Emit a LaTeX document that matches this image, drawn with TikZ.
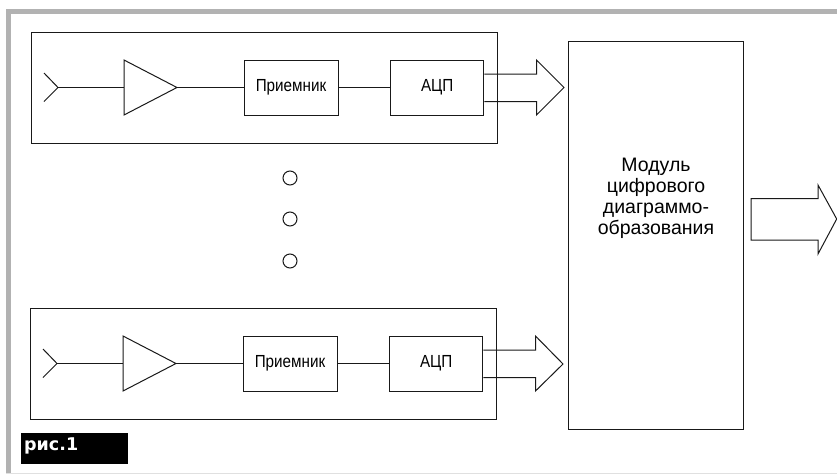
\documentclass[tikz,border=0pt]{standalone}
\usepackage{fontspec}
\setmainfont{Liberation Sans}
\newfontfamily\capfont{DejaVu Sans}
\newfontfamily\narrowfont[FakeStretch=0.87]{Liberation Sans}
\tikzset{
  px/.style={x=1pt,y=-1pt},
  ln/.style={draw=black!90,line width=1pt,line join=miter},
  group/.style={ln,minimum width=466pt,minimum height=111pt,inner sep=0pt},
  block/.style={ln,minimum height=55pt,inner sep=0pt,font=\narrowfont\fontsize{17.5}{19}\selectfont},
  rx/.style={block,minimum width=94pt},
  adc/.style={block,minimum width=93.5pt},
  dotc/.style={ln,circle,minimum size=14pt,inner sep=0pt},
  main/.style={ln,minimum width=175pt,minimum height=388pt,inner sep=0pt},
}
\begin{document}
\begin{tikzpicture}[px]
\useasboundingbox (0,0) rectangle (837,474);
% frame
\fill[white] (0,0) rectangle (837,474);
\fill[black!30] (6,9) rectangle (837,14);
\fill[black!30] (6,9) rectangle (11,473);
\fill[black!12] (6,473) rectangle (837,474);
% top channel
\node[group] (g1) at (264,87.5) {};
\node[rx] (r1) at (291,87.5) {\raisebox{-1.5pt}{Приемник}};
\node[adc] (a1) at (437.2,87.5) {\raisebox{-1.5pt}{АЦП}};
\coordinate (f1) at (58,87.5);
\coordinate (at1) at (124,60);
\coordinate (ab1) at (124,115);
\coordinate (ai1) at (124,87.5);
\coordinate (ao1) at (177,87.5);
\draw[ln] (44,73) -- (f1) -- (44,101.5);
\draw[ln] (f1) -- (ai1);
\draw[ln] (at1) -- (ao1) -- (ab1) -- cycle;
\draw[ln] (ao1) -- (r1);
\draw[ln] (r1) -- (a1);
\draw[ln] (a1.east |- 0,74) -- (536.5,74) -- (536.5,60) -- (564,87.5) -- (536.5,115) -- (536.5,101.5) -- (a1.east |- 0,101.5);
% dots
\node[dotc] (d1) at (290,178) {};
\node[dotc] (d2) at (290,219) {};
\node[dotc] (d3) at (290,261) {};
% bottom channel
\node[group] (g2) at (263,363.5) {};
\node[rx] (r2) at (290,363.5) {\raisebox{-1.5pt}{Приемник}};
\node[adc] (a2) at (436.2,363.5) {\raisebox{-1.5pt}{АЦП}};
\coordinate (f2) at (57,363.5);
\coordinate (at2) at (123,336);
\coordinate (ab2) at (123,391);
\coordinate (ai2) at (123,363.5);
\coordinate (ao2) at (176,363.5);
\draw[ln] (43,349) -- (f2) -- (43,377.5);
\draw[ln] (f2) -- (ai2);
\draw[ln] (at2) -- (ao2) -- (ab2) -- cycle;
\draw[ln] (ao2) -- (r2);
\draw[ln] (r2) -- (a2);
\draw[ln] (a2.east |- 0,350) -- (535.5,350) -- (535.5,336) -- (563,364) -- (535.5,391) -- (535.5,377.5) -- (a2.east |- 0,377.5);
% main module
\node[main] (m) at (656.3,235) {};
\node[align=center,font=\fontsize{19.5}{21}\selectfont,inner sep=0pt] (mt) at (656,198) {Модуль\\цифрового\\диаграммо-\\образования};
% output arrow
\draw[ln] (751,198.5) -- (818,198.5) -- (818,185) -- (836.7,219) -- (818,254) -- (818,240) -- (751,240) -- cycle;
% caption
\node[fill=black,text=white,minimum width=107pt,minimum height=31pt,inner sep=0pt] (cap) at (74.5,448.5) {};
\node[anchor=west,text=white,inner sep=0pt,font=\capfont\bfseries\fontsize{17.5}{20}\selectfont] (capt) at (24,446) {рис.1};
\end{tikzpicture}
\end{document}
